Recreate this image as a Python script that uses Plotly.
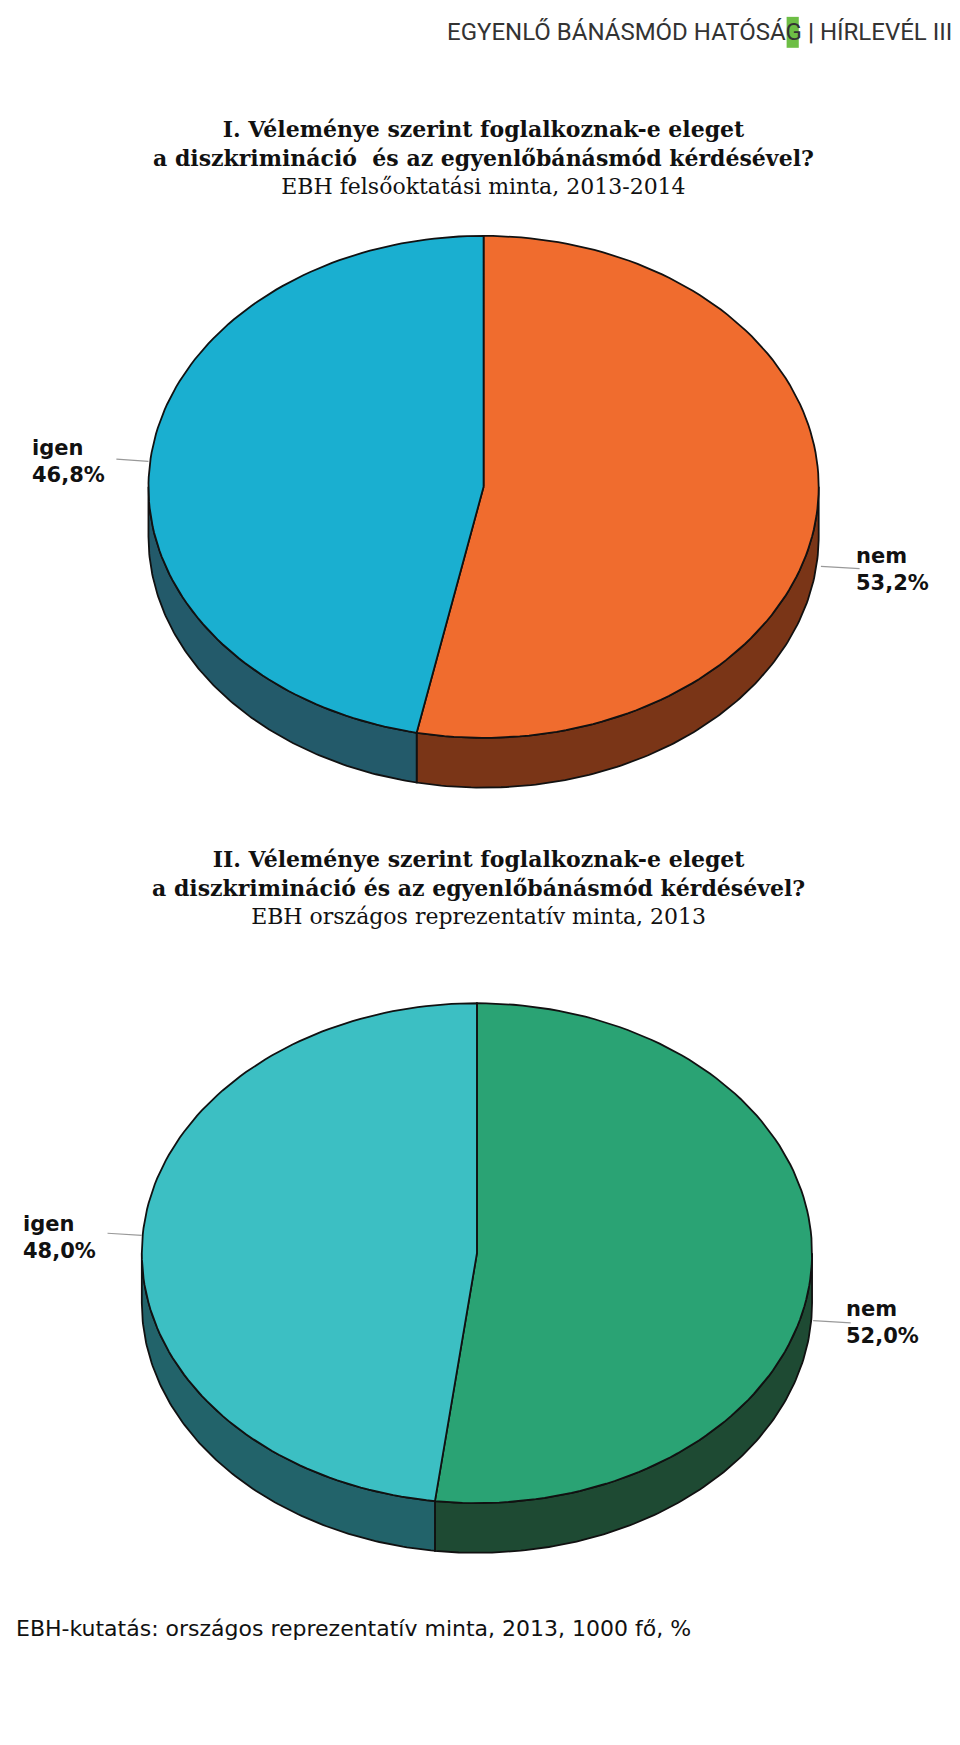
import numpy as np
import plotly.graph_objects as go

labels = ["nem", "igen"]
values_felso = [53.2, 46.8]
values_orszagos = [52.0, 48.0]
top_felso = ["#F06C2E", "#1AAFD0"]
side_felso = ["#7A3517", "#235A6A"]
top_orsz = ["#2AA374", "#3CBFC3"]
side_orsz = ["#1E4A33", "#22636A"]


def arc(cx, cy, rx, ry, a0, a1, n=120):
    t = np.radians(np.linspace(a0, a1, n))
    return cx + rx * np.cos(t), cy - ry * np.sin(t)


def add_pie(fig, vals, tops, sides, cx, cy, rx, ry, depth):
    # slices clockwise from the top
    starts, ends = [], []
    a = 90.0
    for v in vals:
        starts.append(a)
        a -= v * 3.6
        ends.append(a)
    # side walls (front half only)
    for s, e, col in zip(starts, ends, sides):
        for k in (0, -360):
            lo, hi = max(e, -180 + k), min(s, 0 + k)
            if hi <= lo:
                continue
            x, y = arc(cx, cy, rx, ry, hi, lo)
            xs = np.concatenate([x, x[::-1], x[:1]])
            ys = np.concatenate([y, y[::-1] + depth, y[:1]])
            fig.add_trace(go.Scatter(x=xs, y=ys, mode="lines", fill="toself",
                                     fillcolor=col, line=dict(color="#111", width=1.8),
                                     hoverinfo="skip", showlegend=False))
    # top faces
    for s, e, col in zip(starts, ends, tops):
        x, y = arc(cx, cy, rx, ry, s, e)
        xs = np.concatenate([[cx], x, [cx]])
        ys = np.concatenate([[cy], y, [cy]])
        fig.add_trace(go.Scatter(x=xs, y=ys, mode="lines", fill="toself",
                                 fillcolor=col, line=dict(color="#111", width=1.8),
                                 hoverinfo="skip", showlegend=False))


fig = go.Figure()
add_pie(fig, values_felso, top_felso, side_felso, 430, 433, 303, 227, 45)
add_pie(fig, values_orszagos, top_orsz, side_orsz, 424, 1126, 303, 226, 45)

lab = dict(family="DejaVu Sans", size=21, color="#111")
ann = []


def label(x, y, txt, anchor):
    ann.append(dict(x=x, y=y, text=txt, showarrow=False, xanchor=anchor,
                    align="left", font=lab))


def pct(v):
    return f"{v:.1f}%".replace(".", ",")


label(20, 410, f"<b>{labels[1]}<br>{pct(values_felso[1])}</b>", "left")
label(765, 508, f"<b>{labels[0]}<br>{pct(values_felso[0])}</b>", "left")
label(12, 1112, f"<b>{labels[1]}<br>{pct(values_orszagos[1])}</b>", "left")
label(756, 1189, f"<b>{labels[0]}<br>{pct(values_orszagos[0])}</b>", "left")

leaders = [(98, 408, 127, 410), (735, 505, 770, 507), (90, 1108, 121, 1110), (728, 1187, 762, 1189)]
shapes = [dict(type="line", x0=a, y0=b, x1=c, y1=d, xref="x", yref="y",
               line=dict(color="#999", width=1.2)) for a, b, c, d in leaders]
shapes.append(dict(type="rect", x0=704, x1=715, y0=8, y1=36, xref="x", yref="y",
                   fillcolor="#6DBE45", line=dict(width=0), layer="below"))

hdr = dict(family="Roboto", size=24, color="#333")
ann.append(dict(x=862, y=22, text="EGYENLŐ BÁNÁSMÓD HATÓSÁG <b>|</b> HÍRLEVÉL III.",
                showarrow=False, xanchor="right", font=hdr))

serif = "DejaVu Serif"
ann.append(dict(x=430, y=135, showarrow=False, font=dict(family=serif, size=22, color="#111"),
                text="<b>I. Véleménye szerint foglalkoznak-e eleget<br>a diszkrimináció  és az egyenlőbánásmód kérdésével?</b>"
                     "<br>EBH felsőoktatási minta, 2013-2014"))
ann.append(dict(x=425, y=795, showarrow=False, font=dict(family=serif, size=22, color="#111"),
                text="<b>II. Véleménye szerint foglalkoznak-e eleget<br>a diszkrimináció és az egyenlőbánásmód kérdésével?</b>"
                     "<br>EBH országos reprezentatív minta, 2013"))
ann.append(dict(x=5, y=1465, xanchor="left", showarrow=False,
                font=dict(family="DejaVu Sans", size=22, color="#111"),
                text="EBH-kutatás: országos reprezentatív minta, 2013, 1000 fő, %"))
ann.append(dict(x=856, y=1715, xanchor="right", showarrow=False,
                font=dict(family="Roboto", size=26, color="#111"), text="19"))

fig.update_layout(width=960, height=1745, margin=dict(l=0, r=0, t=0, b=0),
                  paper_bgcolor="white", plot_bgcolor="white",
                  annotations=ann, shapes=shapes,
                  xaxis=dict(range=[0, 868], visible=False, fixedrange=True),
                  yaxis=dict(range=[1578, 0], visible=False, fixedrange=True))
fig.write_html("out.html")
